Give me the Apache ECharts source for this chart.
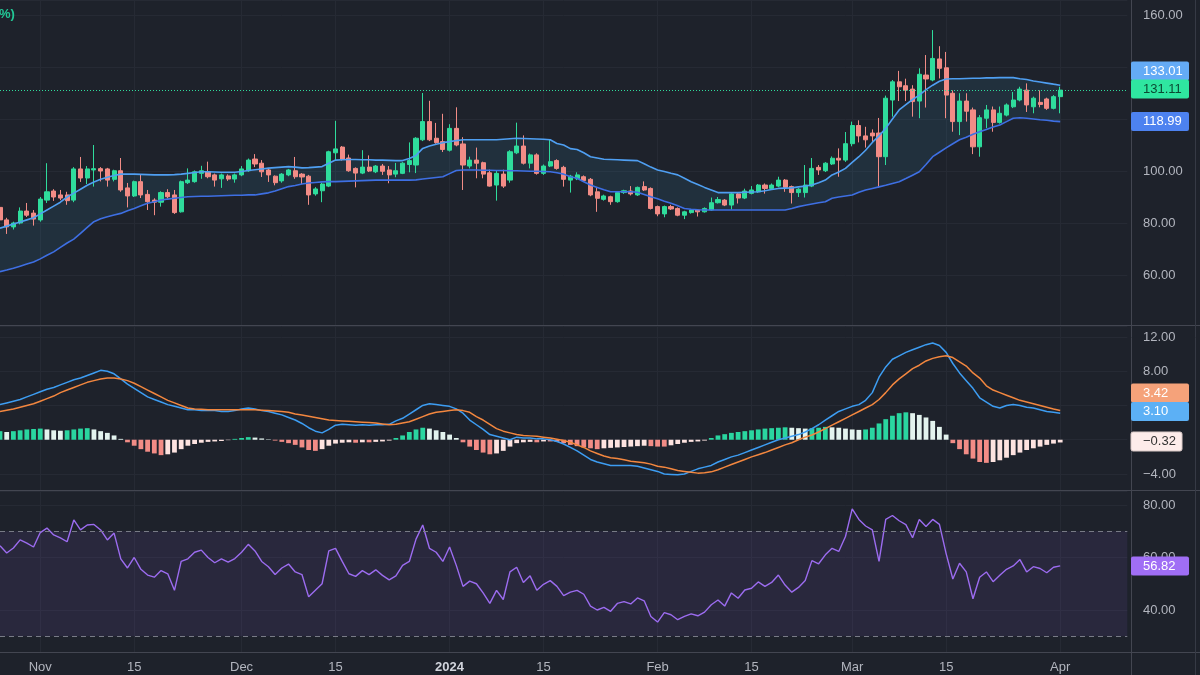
<!DOCTYPE html>
<html><head><meta charset="utf-8">
<script src="https://cdn.jsdelivr.net/npm/echarts@6/dist/echarts.min.js"></script>
<style>html,body{margin:0;padding:0;background:#1e222b;}#c{width:1200px;height:675px;}</style>
</head><body><div id="c"></div>
<script>
// ---- categories ----
const startDate = '2023-10-26';
const totalDays = 169; // visible slots incl. right padding
const tickDates = ['2023-11-01','2023-11-15','2023-12-01','2023-12-15','2024-01-01','2024-01-15','2024-02-01','2024-02-15','2024-03-01','2024-03-15','2024-04-01'];
const tickTexts = ['Nov','15','Dec','15','2024','15','Feb','15','Mar','15','Apr'];

// ---- price (Oct 26 2023 .. Apr 1 2024) ----
const opens = [86,81.2,78.5,80,84.6,83.8,81.2,88.8,92.3,90.8,
90.8,88.8,100.8,97.3,100.4,100.9,100.8,96.8,100.1,93.5,
90.4,95.9,91,88.8,88,91.7,90.8,84.3,95.5,95.9,
99.1,99.7,98.5,97,98.1,96.9,98.5,100.1,104.6,103,
100.4,98,96.2,98.5,100.1,98.8,98,91.2,92.4,94.2,
107,109.2,105,101,99.2,101.5,99.7,101.9,100.4,98.8,
99.1,102.5,102.3,112,119,112.6,111.3,108,116.4,110.4,
101.9,104.2,103.2,99.3,94.6,98.8,96.5,107,109.6,103,
106.2,99.1,101.9,104,101.4,96.5,97,97.8,96.8,92,
89.1,90.1,88.2,91.7,92.3,90.8,94,93.3,86.3,83.5,
86.3,85.6,83,84,85,84.3,85,87.8,88.8,86.9,
91.2,89.6,91.4,92,94.6,93.3,94.2,96.5,94,91.7,
91.7,94.2,101.4,100.1,102.7,104.9,104.2,110.5,117.5,113.5,
114.6,114.6,105.5,127.3,134.3,132.8,131.5,126.9,136.9,135,
143.1,139.7,129.9,119,126.9,123.5,109.3,120.3,123.5,118.7,
121.5,124.7,127.3,131.1,124.7,126.4,127.7,124.1,128.6];
const closes = [81.2,78.5,80,84.6,83,81.5,89.2,92,90,89.6,
88.6,100.8,97.3,100.8,100.9,100,96.5,100.1,92.7,90.4,
95.9,90.8,88.2,88,91.7,90.1,84,95.9,96.5,99.7,
100.1,97.8,96.5,98.5,96.9,98.5,100.8,104.2,102.7,99.7,
98.5,95.5,98.8,100.4,97.8,97.7,90.8,93.1,95,107.4,
108.5,104.6,100.1,99.2,101.5,100,101.9,99.9,98.5,100.1,
103,104,112.6,119,112,110.9,108.3,116.4,110,102.3,
104.2,103,98.8,94.2,99.1,94.2,107.4,109.6,103,106.2,
99.1,101.9,103.6,101,96.8,98,98.5,96.3,90.8,89.5,
90.4,88.2,91.7,92.4,91.2,93.7,92.7,85.6,83.5,86.3,
85.4,83,84.3,85,84.3,85.6,87.8,89,86.9,91.2,
89.6,92.3,92.7,94.6,93.3,94.6,96.5,93.7,91.7,93,
94.6,101,100.4,103,104.9,104.2,110.5,117.5,113.5,112,
113.5,105.5,128,134.3,132.4,131.1,126.7,137.2,135.4,143.3,
139.5,129.2,119,126.9,123,109.3,120.5,123.5,118.7,122.2,
125.4,127.3,131.5,125.4,128,125.6,124.1,128.6,131.11];
const lows = [80,75.8,77.5,79.5,82.3,79,80.5,87.7,88.5,88.8,
87,88,95.8,95,94,96,94,96,92,86,
90,89.6,85,83,86.3,89.5,83.5,84,95,95.5,
97,97.2,94,93.5,96.2,95.5,98,99.7,101.5,97.7,
95.8,94.5,95.5,98,97,95,87,90.5,88,93.8,
104,104,99.7,93.7,98.8,99.6,99.2,98.5,95.3,97.6,
98.8,99.5,99.2,111.5,111.5,110.5,107.3,107.5,109.5,92.7,
101,97.2,97.2,94,88.6,93.5,95.5,106.5,102.5,101,
98.6,98.5,101.5,100.5,94,91.7,96.5,95.8,90.3,84.3,
88.6,87,87.8,91.2,90.6,90.4,92.3,85.2,82.6,82.2,
85,82.6,81.5,83.6,82.5,84,84.7,87.5,86.5,85.2,
87.5,89.2,91,91.6,91.3,93,93.8,92,87.5,90,
89.8,93.8,98.5,99.6,102.3,97.8,103.5,109.5,111,109,
111,93.5,102.3,120.9,126.9,126.9,120.9,120.3,124.4,134.5,
135.6,120.3,115.1,113.8,119,106.5,105.5,116.5,115.1,118.2,
121,124.2,126.8,122.7,122.2,124.5,123.5,123.7,122.2];
const highs = [87,82,80.5,86,87.7,85,90,103,93,92.7,
92,101.5,105.4,101.9,110,101.5,101.2,100.5,105,95.4,
96.3,98.8,92.7,89.5,92.2,93,92.7,96.3,101,100.2,
102,103.6,99,99,98.7,99,101.9,104.8,106.5,104.2,
100.8,98.3,99.2,100.8,105.4,99.2,98.5,93.8,95.5,107.8,
119.3,109.6,106.3,101.4,108,106,102.3,102.7,101.9,103.1,
103.4,111,113,130,127,118.5,122,118,124.5,113,
105.5,109,103.6,100.5,100.1,100.5,108,118.6,113.7,106.7,
106.8,102.5,112,104.5,102,98.5,99.5,98.3,97.3,93.5,
90.9,90.5,92.1,92.8,94.2,94,96,93.7,86.7,86.7,
87,86,84.7,85.4,85.3,86,89.8,90,89.2,91.6,
91.6,93.2,94.2,95,95.2,95.2,97.8,96.9,94.4,93.4,
102.3,105,102.3,103.4,105.6,108.7,115,119,119.5,117,
116,120.4,129,135,138.5,135.5,133,139.5,144.6,154.2,
148,145.8,131,129.9,129.9,124.4,121.5,125.4,124.8,124.8,
126,130.4,132.4,133.7,128.6,131,128.2,129.2,132.4];

// ---- bands ----
const upperBand = [78.0,78.8,79.6,80.4,81.2,82.0,83.5,85.0,86.5,88.0,
90.0,91.5,93.0,94.5,95.8,96.8,97.6,98.3,98.8,98.8,
98.8,98.7,98.6,98.5,98.5,98.5,98.6,98.8,99.1,99.4,
99.7,99.7,99.6,99.5,99.5,99.5,99.8,100.2,100.5,100.8,
101.1,101.3,101.5,101.7,101.5,101.2,101.3,101.5,101.7,103.0,
104.2,104.3,104.4,104.4,104.3,104.3,104.2,104.2,104.1,104.0,
104.0,104.8,106.0,108.7,109.6,110.3,110.9,111.3,111.7,112.0,
112.0,112.0,112.0,112.0,112.0,112.2,112.4,112.6,112.5,112.4,
112.3,112.2,112.0,110.6,110.0,108.6,108.3,107.0,105.5,105.0,
104.5,104.4,104.3,104.2,104.1,104.0,102.8,101.5,100.4,99.8,
99.1,98.5,97.2,95.9,94.8,93.7,92.7,91.7,91.7,91.7,
91.7,91.8,91.9,92.0,92.4,92.9,93.3,93.4,93.5,93.9,
94.2,94.6,95.5,96.5,98.5,99.6,101.0,103.3,105.5,108.0,
111.0,113.5,116.4,120.0,123.5,125.5,127.5,129.2,131.3,133.0,
134.5,135.4,135.5,135.5,135.6,135.7,135.7,135.8,135.8,135.9,
135.9,135.9,135.5,135.2,134.6,134.2,133.8,133.4,133.01];
const lowerBand = [61.3,61.9,62.6,63.4,64.2,65.0,66.2,67.6,68.9,70.6,
72.3,73.8,76.0,78.3,80.5,81.6,82.4,83.1,83.7,84.7,
85.6,86.6,87.6,88.2,88.8,89.2,89.5,89.8,90.1,90.2,
90.3,90.3,90.4,90.5,90.6,90.7,90.7,90.8,90.8,91.2,
91.6,92.3,93.2,94.0,94.4,95.0,95.4,95.6,95.8,95.9,
95.9,96.0,96.1,96.2,96.3,96.4,96.5,96.5,96.5,96.5,
96.5,96.5,96.6,96.9,97.2,97.5,97.8,99.0,100.2,100.4,
100.4,100.4,100.3,100.3,100.2,100.2,100.1,100.1,100.0,99.9,
99.9,99.8,99.7,99.3,98.8,97.8,97.2,95.9,94.6,93.7,
92.8,92.0,92.0,92.0,92.0,91.8,91.0,90.1,89.3,88.4,
87.6,86.6,85.6,85.3,85.1,85.0,85.0,85.0,85.0,85.0,
85.0,85.0,85.0,85.0,85.0,85.0,85.0,85.0,85.6,86.3,
86.8,87.3,87.8,88.2,89.5,90.0,90.4,90.8,91.8,92.7,
93.3,93.9,94.5,95.2,95.9,97.1,98.4,99.7,102.5,105.5,
107.2,108.9,110.5,112.0,113.0,114.1,115.1,116.0,116.9,117.7,
119.0,120.3,120.5,120.3,120.0,119.7,119.5,119.2,118.99];

// ---- MACD ----
const macdLine = [4.1,4.3,4.5,4.7,5.0,5.3,5.6,5.9,6.1,6.4,
6.7,7.0,7.2,7.5,7.8,8.1,8.0,7.7,7.1,6.5,
6.0,5.5,5.0,4.7,4.4,4.1,3.9,3.7,3.5,3.5,
3.4,3.4,3.4,3.3,3.3,3.4,3.6,3.7,3.6,3.4,
3.3,3.1,2.9,2.6,2.3,1.9,1.4,1.0,0.8,1.2,
1.7,1.8,1.75,1.7,1.75,1.7,1.75,1.75,1.8,2.2,
2.5,3.0,3.5,4.0,4.2,4.1,4.0,3.9,3.6,3.1,
2.3,1.75,1.2,0.6,0.4,0.2,0.0,0.3,0.2,0.2,
0.1,0.1,0.0,-0.2,-0.5,-0.9,-1.3,-1.8,-2.3,-2.6,
-2.8,-3.0,-3.0,-3.0,-3.0,-3.1,-3.3,-3.5,-3.7,-4.0,
-4.05,-4.1,-4.0,-3.7,-3.4,-3.2,-3.0,-2.6,-2.3,-2.0,
-1.8,-1.5,-1.2,-0.9,-0.6,-0.3,0.0,0.2,0.4,0.6,
0.9,1.3,1.75,2.3,2.8,3.3,3.6,3.9,4.1,4.6,
5.5,7.3,8.5,9.4,9.8,10.2,10.5,10.8,11.1,11.3,
11.0,10.2,8.9,7.8,6.9,6.0,4.9,4.4,3.9,3.7,
4.0,4.1,4.0,3.8,3.7,3.5,3.3,3.2,3.10];
const signalLine = [3.3,3.45,3.6,3.8,4.0,4.2,4.5,4.8,5.1,5.5,
5.8,6.1,6.4,6.7,6.9,7.1,7.2,7.2,7.1,6.9,
6.6,6.2,5.8,5.4,5.0,4.6,4.3,4.0,3.7,3.6,
3.55,3.5,3.5,3.5,3.5,3.5,3.5,3.5,3.5,3.45,
3.4,3.35,3.3,3.2,3.0,2.9,2.75,2.6,2.45,2.3,
2.25,2.2,2.15,2.1,2.05,2.0,1.95,1.85,1.75,1.8,
1.95,2.1,2.4,2.7,3.0,3.2,3.3,3.4,3.5,3.4,
3.2,2.7,2.3,1.8,1.3,1.0,0.8,0.6,0.5,0.45,
0.4,0.3,0.2,0.05,-0.1,-0.3,-0.6,-0.9,-1.3,-1.6,
-1.9,-2.1,-2.2,-2.35,-2.5,-2.6,-2.7,-2.85,-3.1,-3.2,
-3.4,-3.6,-3.7,-3.8,-3.9,-3.85,-3.75,-3.5,-3.2,-2.9,
-2.6,-2.3,-2.0,-1.75,-1.5,-1.2,-0.9,-0.6,-0.35,0.0,
0.3,0.55,0.9,1.3,1.7,2.1,2.5,2.9,3.3,3.7,
4.1,4.7,5.5,6.4,7.1,7.7,8.3,8.7,9.2,9.5,
9.7,9.8,9.6,9.1,8.6,7.8,7.2,6.3,5.8,5.5,
5.2,4.9,4.6,4.4,4.2,4.0,3.8,3.6,3.42];
const histValues = [1.0,0.9,1.0,1.1,1.2,1.25,1.3,1.2,1.1,1.05,
1.1,1.2,1.3,1.35,1.2,1.0,0.8,0.5,0.1,-0.3,
-0.7,-1.1,-1.4,-1.6,-1.8,-1.7,-1.5,-1.1,-0.7,-0.5,
-0.35,-0.25,-0.2,-0.15,-0.05,0.1,0.2,0.3,0.25,0.15,
0.05,-0.1,-0.25,-0.4,-0.6,-0.9,-1.2,-1.3,-1.1,-0.7,
-0.45,-0.35,-0.3,-0.35,-0.3,-0.3,-0.25,-0.2,-0.1,0.2,
0.5,0.9,1.2,1.4,1.3,1.1,0.9,0.6,0.2,-0.3,
-0.8,-1.2,-1.5,-1.7,-1.6,-1.3,-0.8,-0.4,-0.3,-0.25,
-0.3,-0.2,-0.2,-0.25,-0.4,-0.6,-0.75,-0.9,-1.0,-1.1,
-1.0,-0.95,-0.9,-0.85,-0.8,-0.75,-0.7,-0.75,-0.8,-0.8,
-0.65,-0.5,-0.35,-0.25,-0.2,-0.1,0.2,0.5,0.65,0.8,
0.9,1.0,1.1,1.2,1.3,1.35,1.4,1.45,1.4,1.35,
1.3,1.35,1.4,1.5,1.45,1.4,1.3,1.2,1.15,1.2,
1.4,1.9,2.4,2.8,3.1,3.2,3.1,2.9,2.6,2.2,
1.5,0.6,-0.4,-1.1,-1.7,-2.2,-2.6,-2.7,-2.6,-2.4,
-2.1,-1.8,-1.5,-1.2,-1.0,-0.8,-0.6,-0.45,-0.32];

// ---- RSI ----
const rsiValues = [64.5,61.7,63.6,66.7,65.5,64.0,69.5,71.2,68.6,67.5,
66.0,74.3,70.5,72.4,72.6,70.5,66.7,69.3,59.5,56.0,
60.0,55.5,53.3,52.5,55.0,53.8,47.5,58.5,59.5,62.0,
62.8,60.0,58.0,59.5,58.2,59.6,62.0,65.0,62.5,58.5,
56.5,53.5,56.0,57.5,54.5,53.5,45.0,47.5,50.0,62.5,
63.5,58.5,53.8,52.8,55.0,53.5,55.3,53.2,51.5,53.0,
57.0,58.5,67.0,72.4,63.5,62.0,58.5,64.0,57.0,49.0,
51.0,50.0,46.5,42.5,47.5,44.0,54.5,56.3,50.5,53.0,
47.5,49.8,51.2,49.0,45.5,46.8,47.5,46.0,41.5,40.0,
41.0,39.5,42.5,43.2,42.3,44.6,43.5,37.5,35.4,39.0,
38.2,36.3,37.6,38.5,37.8,39.2,42.0,43.8,41.5,46.5,
44.5,47.6,48.3,50.7,49.0,50.5,53.3,49.5,46.8,48.6,
51.2,58.8,57.6,61.0,63.5,62.3,68.0,78.5,74.5,72.0,
70.5,58.5,74.5,76.0,74.0,72.5,67.5,74.5,71.8,74.5,
72.6,61.5,51.8,57.8,54.5,44.3,52.5,54.5,50.8,53.2,
55.5,56.8,59.2,54.5,56.5,55.8,54.2,56.3,56.82];

// ---- build ----
const dates = [];
const t0 = Date.parse(startDate + 'T00:00:00Z');
for (let i = 0; i < totalDays; i++) dates.push(new Date(t0 + i * 86400000).toISOString().slice(0, 10));
const tickIdx = tickDates.map(d => dates.indexOf(d));
const candleData = opens.map((o, i) => [o, closes[i], lows[i], highs[i]]);
const bandDiff = upperBand.map((u, i) => +(u - lowerBand[i]).toFixed(3));
const lastClose = closes[closes.length - 1];

const UP = '#2fdc9c', DOWN = '#f28c86';
const FONT = "'Liberation Sans', Arial, sans-serif";
const AXIS_TXT = '#b2b5be';
const GRIDLINE = '#262a34';

const gridW = { left: -2, right: 72.7 };
const grids = [
  Object.assign({ top: 0, height: 325 }, gridW),
  Object.assign({ top: 326, height: 164 }, gridW),
  Object.assign({ top: 491, height: 161 }, gridW)
];
function xAxisFor(g, showLabels) {
  return {
    type: 'category', gridIndex: g, data: dates, boundaryGap: false,
    axisLine: { show: false }, axisTick: { show: false },
    splitLine: { show: true, interval: (i) => tickIdx.includes(i), lineStyle: { color: GRIDLINE, width: 1 } },
    axisLabel: showLabels ? {
      show: true, interval: (i) => tickIdx.includes(i), margin: 9,
      color: AXIS_TXT, fontSize: 13, fontFamily: FONT,
      formatter: (v, i) => { const k = tickIdx.indexOf(i); if (k < 0) return ''; const t = tickTexts[k]; return /^\d{4}$/.test(t) ? '{b|' + t + '}' : t; },
      rich: { b: { fontWeight: 'bold', color: '#d1d4dc', fontSize: 13, fontFamily: FONT } }
    } : { show: false }
  };
}
function yAxisFor(g, min, max, step) {
  return {
    type: 'value', gridIndex: g, position: 'right', min: min, max: max,
    minInterval: step, maxInterval: step, splitNumber: 5, scale: true,
    axisLine: { show: false }, axisTick: { show: false },
    splitLine: { show: true, lineStyle: { color: GRIDLINE, width: 1 } },
    axisLabel: { show: true, showMinLabel: false, showMaxLabel: false, margin: 15.7, align: 'left',
      color: AXIS_TXT, fontSize: 13, fontFamily: FONT,
      formatter: (v) => v.toFixed(2).replace('-', '\u2212') }
  };
}

function badge(y, text, bg, fg, w, border) {
  return [
    { type: 'rect', z: 100, shape: { x: 1131, y: y - 9.5, width: w || 58, height: 19, r: 2 }, style: { fill: bg, stroke: border || null, lineWidth: border ? 1 : 0 } },
    { type: 'text', z: 101, x: 1143, y: y, style: { text: text, fill: fg, font: '13px ' + FONT, textVerticalAlign: 'middle', verticalAlign: 'middle' } }
  ];
}

const option = {
  animation: false,
  backgroundColor: '#1e222b',
  grid: grids,
  xAxis: [xAxisFor(0, false), xAxisFor(1, false), xAxisFor(2, true)],
  yAxis: [yAxisFor(0, 40.77, 165.77, 20), yAxisFor(1, -5.87, 13.28, 4), yAxisFor(2, 24, 85.33, 20)],
  series: [
    { name: 'bandBase', type: 'line', xAxisIndex: 0, yAxisIndex: 0, data: lowerBand, stack: 'bb', symbol: 'none', silent: true, lineStyle: { opacity: 0 }, z: 1 },
    { name: 'bandFill', type: 'line', xAxisIndex: 0, yAxisIndex: 0, data: bandDiff, stack: 'bb', symbol: 'none', silent: true, lineStyle: { opacity: 0 }, areaStyle: { color: 'rgba(60,135,175,0.14)', opacity: 1 }, z: 1 },
    { name: 'price', type: 'candlestick', xAxisIndex: 0, yAxisIndex: 0, data: candleData, barWidth: 4.6, z: 3,
      itemStyle: { color: UP, color0: DOWN, borderColor: UP, borderColor0: DOWN, borderWidth: 1 },
      markLine: { symbol: 'none', silent: true, label: { show: false }, lineStyle: { color: '#2fdc9c', type: [1, 2], width: 1 }, data: [{ yAxis: lastClose }] } },
    { name: 'upper', type: 'line', xAxisIndex: 0, yAxisIndex: 0, data: upperBand, symbol: 'none', smooth: false, lineStyle: { color: '#4f9ff2', width: 1.6 }, z: 4 },
    { name: 'lower', type: 'line', xAxisIndex: 0, yAxisIndex: 0, data: lowerBand, symbol: 'none', lineStyle: { color: '#3e6fe3', width: 1.6 }, z: 4 },
    { name: 'hist', type: 'bar', xAxisIndex: 1, yAxisIndex: 1, data: histValues, barWidth: 4.8, z: 2,
      itemStyle: { color: (p) => { const v = p.value, pv = p.dataIndex > 0 ? histValues[p.dataIndex - 1] : v;
        if (v >= 0) return v >= pv ? '#2ad6a0' : '#e3f3ee';
        return v <= pv ? '#f28c86' : '#fde3e0'; } } },
    { name: 'macd', type: 'line', xAxisIndex: 1, yAxisIndex: 1, data: macdLine, symbol: 'none', lineStyle: { color: '#3d9df2', width: 1.5 }, z: 4 },
    { name: 'signal', type: 'line', xAxisIndex: 1, yAxisIndex: 1, data: signalLine, symbol: 'none', lineStyle: { color: '#f3873f', width: 1.5 }, z: 4 },
    { name: 'rsi', type: 'line', xAxisIndex: 2, yAxisIndex: 2, data: rsiValues, symbol: 'none', lineStyle: { color: '#9c6cf0', width: 1.4 }, z: 4,
      markArea: { silent: true, itemStyle: { color: 'rgba(126,87,194,0.12)' }, data: [[{ yAxis: 30 }, { yAxis: 70 }]] },
      markLine: { symbol: 'none', silent: true, label: { show: false }, lineStyle: { color: '#787b86', type: [5, 4], width: 1 }, data: [{ yAxis: 70 }, { yAxis: 30 }] } }
  ],
  graphic: [
    { type: 'line', z: 50, shape: { x1: 0, y1: 325.5, x2: 1200, y2: 325.5 }, style: { stroke: '#434651', lineWidth: 1 } },
    { type: 'line', z: 50, shape: { x1: 0, y1: 490.5, x2: 1200, y2: 490.5 }, style: { stroke: '#434651', lineWidth: 1 } },
    { type: 'line', z: 50, shape: { x1: 0, y1: 652.5, x2: 1200, y2: 652.5 }, style: { stroke: '#434651', lineWidth: 1 } },
    { type: 'line', z: 50, shape: { x1: 1131.5, y1: 0, x2: 1131.5, y2: 675 }, style: { stroke: '#434651', lineWidth: 1 } },
    { type: 'line', z: 50, shape: { x1: 1195.5, y1: 0, x2: 1195.5, y2: 675 }, style: { stroke: '#363a45', lineWidth: 1 } },
    { type: 'text', z: 60, x: -1, y: 14, style: { text: '%)', fill: '#22c896', font: 'bold 13px ' + FONT, verticalAlign: 'middle' } },
    ...badge(71, '133.01', '#64abf6', '#ffffff'),
    ...badge(89, '131.11', '#2fe6a0', '#0b4a33'),
    ...badge(121.5, '118.99', '#4d82f0', '#ffffff'),
    ...badge(393, '3.42', '#f5a27a', '#ffffff'),
    ...badge(411.5, '3.10', '#5cb0f5', '#ffffff'),
    ...badge(441.5, '\u22120.32', '#fdecea', '#333333', 51, '#d9c9c7'),
    ...badge(566, '56.82', '#a06ef5', '#ffffff')
  ]
};
const chart = echarts.init(document.getElementById('c'), null, { renderer: 'canvas' });
chart.setOption(option);
</script></body></html>
